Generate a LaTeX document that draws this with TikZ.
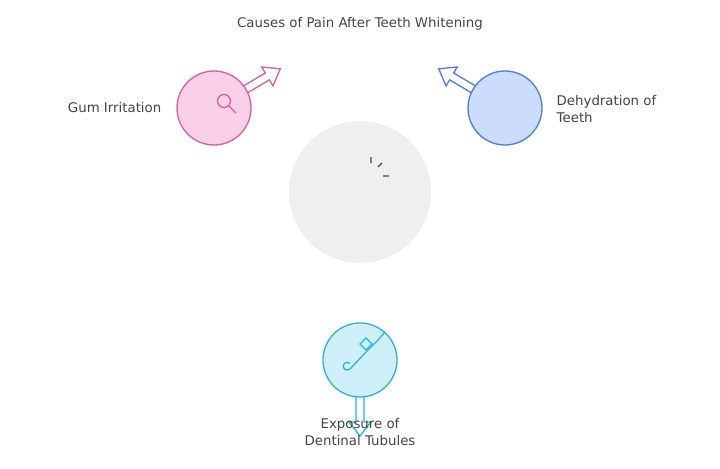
\documentclass[tikz,border=0pt]{standalone}
\usepackage{fontspec}
\setmainfont{DejaVu Sans}
\definecolor{txt}{HTML}{444444}
\definecolor{pinkfill}{HTML}{F9D0E8}\definecolor{pinkline}{HTML}{D9619F}
\definecolor{bluefill}{HTML}{CCDCFB}\definecolor{blueline}{HTML}{4F7FDB}
\definecolor{cyanfill}{HTML}{CFF0FB}\definecolor{cyanline}{HTML}{2BB5E0}
\definecolor{hubfill}{HTML}{EFEFEF}
\tikzset{
  bubble/.style={circle, minimum size=74pt*0.75, line width=1pt},
  lbl/.style={text=txt, font=\fontsize{10}{13}\selectfont},
  blockarrow/.style={line width=1pt},
  tooth/.pic={\draw[line width=1pt] (-0.3,-1.2) .. controls (-1.1,-1.5) and (-1.2,-0.5) .. (-0.9,0.1)
    .. controls (-0.8,0.6) and (-0.9,1.0) .. (-0.7,1.3) .. controls (-0.5,1.4) and (-0.5,1.0) .. (-0.4,0.6)
    .. controls (-0.2,0.2) and (0.2,0.2) .. (0.4,0.6) .. controls (0.5,1.0) and (0.5,1.4) .. (0.7,1.3)
    .. controls (0.9,1.0) and (0.8,0.6) .. (0.9,0.1) .. controls (1.2,-0.5) and (1.1,-1.5) .. (0.3,-1.2)
    .. controls (0.1,-1.1) and (-0.1,-1.1) .. cycle;}
}
% hollow block arrow along the x axis
\newcommand\hollowarrow[1]{\filldraw[blockarrow,fill=white] (30,-4)--(62,-4)--(62,-11)--(#1,0)--(62,11)--(62,4)--(30,4)--cycle;}
\begin{document}
\begin{tikzpicture}[x=0.75pt,y=-0.75pt]
\useasboundingbox (0,0) rectangle (720,468);

\node[lbl] (title) at (360,24) {Causes of Pain After Teeth Whitening};

% arrows first, bubbles on top
\begin{scope}[shift={(214,108)},rotate=30.6,draw=pinkline]\hollowarrow{77}\end{scope}
\begin{scope}[shift={(505,108)},rotate=149.4,draw=blueline]\hollowarrow{77}\end{scope}
\begin{scope}[shift={(360,360)},rotate=-90,draw=cyanline]\hollowarrow{76}\end{scope}

\node[circle, fill=hubfill, minimum size=142pt*0.75] (hub) at (360,192) {};
\node[bubble, draw=pinkline, fill=pinkfill] (gum) at (214,108) {};
\node[bubble, draw=blueline, fill=bluefill] (dry) at (505,108) {};
\node[bubble, draw=cyanline, fill=cyanfill] (tubule) at (360,360) {};

% icons
\pic[draw=txt, x=20pt, y=-20pt] at (353,193) {tooth};
\draw[txt, line width=1pt] (371,157)--(371,163) (382,163)--(378,167) (383,176)--(389,176);
\pic[draw=pinkline, x=12pt, y=-12pt] at (208,110) {tooth};
\draw[pinkline, line width=1pt, fill=pinkfill] (224,101) circle (6.5);
\draw[pinkline, line width=1pt] (229,106)--(236,113);
\pic[draw=blueline, x=12pt, y=-12pt] at (505,110) {tooth};
\draw[cyanline, line width=1pt] (385,332)--(378,340)--(366,352)--(350,369);
\draw[cyanline, line width=1pt] (372,344)--(366,350)--(360,344)--(366,338)--cycle;
\draw[cyanline, line width=1pt] (350,369) arc (45:315:4);

% labels
\node[lbl, anchor=east] (gumlbl) at (166,108) {Gum Irritation};
\node[lbl, anchor=west, align=left] (drylbl) at (552,109) {Dehydration of\\Teeth};
\node[lbl, align=center] (tubulelbl) at (360,432) {Exposure of\\Dentinal Tubules};
\end{tikzpicture}
\end{document}
